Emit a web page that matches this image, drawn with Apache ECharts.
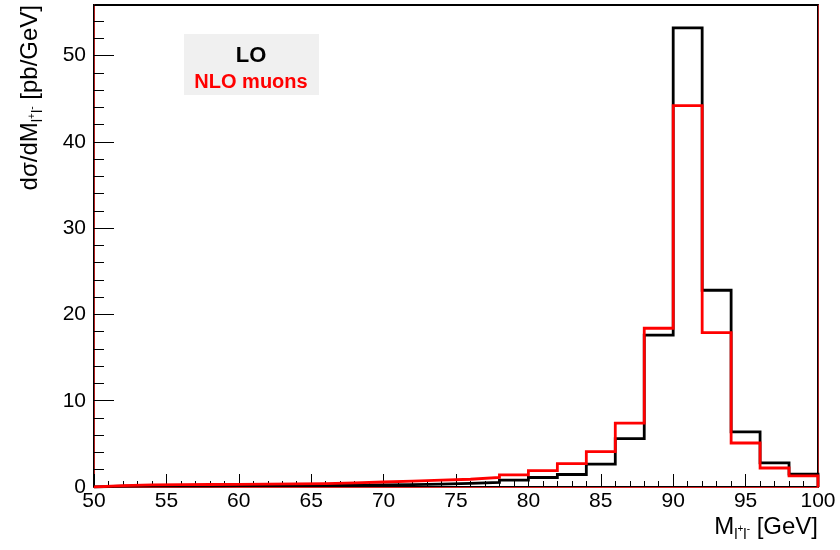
<!DOCTYPE html>
<html>
<head>
<meta charset="utf-8">
<script src="https://cdn.jsdelivr.net/npm/echarts@6/dist/echarts.min.js"></script>
<style>
  html, body { margin: 0; padding: 0; background: #fff; }
  #chart { width: 840px; height: 550px; }
</style>
</head>
<body>
<div id="chart"></div>
<script>
// Bin edges of the dilepton invariant mass histogram (GeV)
const binEdges = [50, 52, 54, 56, 58, 60, 62, 64, 66, 68, 70, 72, 74, 76, 78,
                  80, 82, 84, 86, 88, 90, 92, 94, 96, 98, 100];

// dσ/dM per bin [pb/GeV]
const loValues = [0.10, 0.12, 0.13, 0.14, 0.15, 0.16, 0.18, 0.20, 0.22, 0.25,
                  0.28, 0.34, 0.42, 0.54, 0.80, 1.10, 1.45, 2.65, 5.60, 17.6,
                  53.2, 22.8, 6.40, 2.80, 1.50];
const nloMuonValues = [0.15, 0.25, 0.27, 0.29, 0.31, 0.33, 0.36, 0.40, 0.48, 0.58,
                       0.68, 0.80, 0.90, 1.10, 1.40, 1.90, 2.70, 4.10, 7.40, 18.4,
                       44.2, 17.9, 5.10, 2.20, 1.30];

const xTicks = [50, 55, 60, 65, 70, 75, 80, 85, 90, 95, 100];
const yTicks = [0, 10, 20, 30, 40, 50];

const seriesNames = ['LO', 'NLO muons'];
const seriesColors = ['#000000', '#ff0000'];

// Outline of a histogram: starts and ends on the axis, steps at every bin edge
function histOutline(values) {
  const pts = [[binEdges[0], 0]];
  values.forEach((v, i) => {
    pts.push([binEdges[i], v]);
    pts.push([binEdges[i + 1], v]);
  });
  pts.push([binEdges[binEdges.length - 1], 0]);
  return pts;
}

const font = '"Liberation Sans", Arial, Helvetica, sans-serif';
const yMax = Math.max(...loValues, ...nloMuonValues) * 1.05;
const frameRed = 'rgba(230,40,40,0.75)';

const chart = echarts.init(document.getElementById('chart'), null, { renderer: 'canvas' });

const titleRich = {
  m: { fontSize: 24, fontFamily: font, fill: '#000' },
  s: { fontSize: 15, fontFamily: font, fill: '#000', padding: [16, 0, 0, 0] },
  p: { fontSize: 10, fontFamily: font, fill: '#000', padding: [4, 0, 0, 0] }
};

chart.setOption({
  animation: false,
  backgroundColor: '#ffffff',
  grid: {
    left: 94, right: 22, top: 5, bottom: 63,
    show: true, borderColor: '#000', borderWidth: 2, backgroundColor: 'transparent'
  },
  xAxis: [{
    type: 'value',
    min: xTicks[0], max: xTicks[xTicks.length - 1], interval: 5,
    axisLine: { show: true, onZero: false, lineStyle: { color: frameRed, width: 1 } },
    axisTick: { show: true, inside: true, length: 13, lineStyle: { color: '#000', width: 1 } },
    minorTick: { show: true, splitNumber: 5, length: 6, lineStyle: { color: '#000', width: 1 } },
    splitLine: { show: false },
    axisLabel: { color: '#000', fontSize: 21, fontFamily: font, margin: 4 }
  }, {
    type: 'value', position: 'top',
    min: xTicks[0], max: xTicks[xTicks.length - 1],
    axisLine: { show: true, lineStyle: { color: frameRed, width: 1 } },
    axisTick: { show: false }, axisLabel: { show: false }, splitLine: { show: false }
  }],
  yAxis: [{
    type: 'value',
    min: 0, max: yMax, interval: 10,
    axisLine: { show: true, onZero: false, lineStyle: { color: frameRed, width: 1 } },
    axisTick: { show: true, inside: true, length: 20, lineStyle: { color: '#000', width: 1 } },
    splitLine: { show: false },
    axisLabel: {
      color: '#000', fontSize: 21, fontFamily: font, margin: 8,
      showMaxLabel: false,
      formatter: v => (yTicks.indexOf(v) >= 0 ? String(v) : '')
    }
  }, {
    // minor ticks every 2 pb/GeV
    type: 'value', position: 'left',
    min: 0, max: yMax, interval: 2,
    axisLine: { show: false },
    axisTick: { show: true, inside: true, length: 10, lineStyle: { color: '#000', width: 1 } },
    axisLabel: { show: false }, splitLine: { show: false }
  }, {
    type: 'value', position: 'right',
    min: 0, max: yMax,
    axisLine: { show: true, lineStyle: { color: frameRed, width: 1 } },
    axisTick: { show: false }, axisLabel: { show: false }, splitLine: { show: false }
  }],
  series: [
    {
      name: seriesNames[0], type: 'line', xAxisIndex: 0, yAxisIndex: 0,
      data: histOutline(loValues), symbol: 'none', z: 3,
      lineStyle: { color: seriesColors[0], width: 2.8, join: 'miter', cap: 'butt' }
    },
    {
      name: seriesNames[1], type: 'line', xAxisIndex: 0, yAxisIndex: 0,
      data: histOutline(nloMuonValues), symbol: 'none', z: 4,
      lineStyle: { color: seriesColors[1], width: 2.8, join: 'miter', cap: 'butt' }
    }
  ],
  graphic: [
    // legend box
    { type: 'rect', left: 184, top: 34, shape: { width: 135, height: 61 },
      style: { fill: '#f0f0f0' }, z: 10 },
    { type: 'text', x: 251, y: 56, z: 11,
      style: { text: seriesNames[0], fill: seriesColors[0], font: 'bold 22px ' + font,
               align: 'center', verticalAlign: 'middle' } },
    { type: 'text', x: 251, y: 82, z: 11,
      style: { text: seriesNames[1], fill: seriesColors[1], font: 'bold 20px ' + font,
               align: 'center', verticalAlign: 'middle' } },
    // x-axis title
    { type: 'text', x: 818, y: 527, z: 11,
      style: {
        text: '{m|M}{s|l}{p|+}{s|l}{p|-}{m| [GeV]}',
        align: 'right', verticalAlign: 'middle', rich: titleRich
      } },
    // y-axis title
    { type: 'text', x: 30, y: 5, rotation: Math.PI / 2, z: 11,
      style: {
        text: '{m|dσ/dM}{s|l}{p|+}{s|l}{p|-}{m| [pb/GeV]}',
        align: 'right', verticalAlign: 'middle', rich: titleRich
      } }
  ]
});
</script>
</body>
</html>
